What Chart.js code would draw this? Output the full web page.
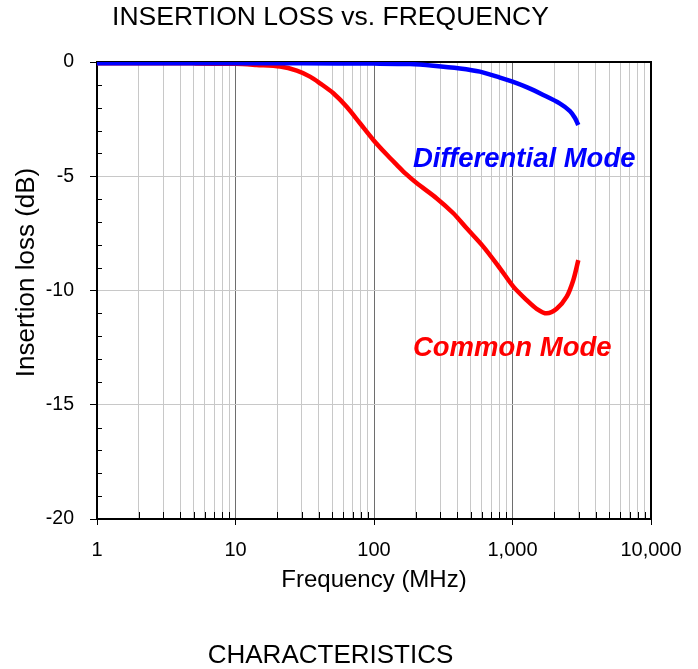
<!DOCTYPE html>
<html><head><meta charset="utf-8">
<script src="https://cdn.jsdelivr.net/npm/chart.js@4/dist/chart.umd.min.js"></script>
<style>html,body{margin:0;padding:0;background:#fff}canvas{display:block}</style>
</head><body>
<canvas id="c" width="698" height="669"></canvas>
<script>
// ---- text ----
const chartTitle = 'INSERTION LOSS vs. FREQUENCY';
const chartCaption = 'CHARACTERISTICS';
const xAxisTitle = 'Frequency (MHz)';
const yAxisTitle = 'Insertion loss (dB)';
const diffLabel = 'Differential Mode';
const commonLabel = 'Common Mode';

// ---- data ----
const diffFreq = [1, 3, 10, 30, 100, 182, 268, 418, 582, 812, 1000, 1265, 1667, 2190, 2600, 2825, 2987];
const diffLoss = [-0.05, -0.05, -0.06, -0.06, -0.07, -0.09, -0.16, -0.28, -0.42, -0.68, -0.86, -1.1, -1.44, -1.81, -2.15, -2.45, -2.76];

const commonFreq = [1, 5, 10, 14.2, 21, 27.7, 34.5, 40.7, 50.9, 63.5, 79.2, 98.9, 123.5, 146, 170, 203, 284, 374, 467, 615, 812, 1014, 1265, 1494, 1766, 2084, 2462, 2750, 2987];
const commonLoss = [-0.05, -0.06, -0.08, -0.13, -0.2, -0.38, -0.64, -0.93, -1.37, -1.96, -2.68, -3.41, -4.05, -4.5, -4.9, -5.3, -5.97, -6.62, -7.28, -8.08, -9.03, -9.83, -10.42, -10.8, -11.0, -10.8, -10.27, -9.54, -8.67];

// ---- ticks ----
const xMajorTicks = [1, 10, 100, 1000, 10000];
const xTickLabels = ['1', '10', '100', '1,000', '10,000'];
const xMinorMultipliers = [2, 3, 4, 5, 6, 7, 8, 9];
const yMin = -20, yMax = 0, yMajorStep = 5, yMinorStep = 1;

// label anchors (data coordinates)
const diffLabelAt = {freq: 191, loss: -4.58};
const commonLabelAt = {freq: 191, loss: -12.85};

const xMinorTicks = [];
xMajorTicks.slice(0, -1).forEach(d => xMinorMultipliers.forEach(m => xMinorTicks.push(m * d)));
const xAllTicks = xMajorTicks.concat(xMinorTicks).sort((a, b) => a - b);

const FONT = '"Liberation Sans", Arial, Helvetica, sans-serif';
Chart.defaults.font.family = FONT;
Chart.defaults.color = '#000';

const toXY = (xs, ys) => xs.map((v, i) => ({x: v, y: ys[i]}));

const extras = {
  id: 'extras',
  beforeDatasetsDraw(chart) {
    const {ctx, chartArea: a, scales: {x, y}} = chart;
    ctx.save();
    ctx.strokeStyle = '#000';
    ctx.lineWidth = 1;
    ctx.beginPath();
    for (let v = yMin; v <= yMax; v += yMinorStep) {
      if (v % yMajorStep === 0) continue;
      const py = Math.round(y.getPixelForValue(v)) + 0.5;
      ctx.moveTo(a.left, py); ctx.lineTo(a.left + 5, py);
    }
    xMinorTicks.forEach(v => {
      const px = Math.round(x.getPixelForValue(v)) + 0.5;
      ctx.moveTo(px, a.bottom); ctx.lineTo(px, a.bottom - 7);
    });
    ctx.stroke();
    ctx.lineWidth = 2;
    ctx.strokeRect(a.left, a.top, a.right - a.left, a.bottom - a.top);
    // y axis title
    ctx.save();
    ctx.translate(27, (a.top + a.bottom) / 2 - 18);
    ctx.rotate(-Math.PI / 2);
    ctx.font = '26px ' + FONT;
    ctx.fillStyle = '#000';
    ctx.textAlign = 'center';
    ctx.textBaseline = 'middle';
    ctx.fillText(yAxisTitle, 0, 0);
    ctx.restore();
    ctx.restore();
  },
  afterDatasetsDraw(chart) {
    const {ctx, scales: {x, y}} = chart;
    ctx.save();
    ctx.font = 'italic bold 27.5px ' + FONT;
    ctx.textAlign = 'left';
    ctx.textBaseline = 'alphabetic';
    ctx.fillStyle = '#0000ff';
    ctx.fillText(diffLabel, x.getPixelForValue(diffLabelAt.freq), y.getPixelForValue(diffLabelAt.loss));
    ctx.fillStyle = '#ff0000';
    ctx.fillText(commonLabel, x.getPixelForValue(commonLabelAt.freq), y.getPixelForValue(commonLabelAt.loss));
    ctx.restore();
  }
};

new Chart(document.getElementById('c'), {
  type: 'line',
  data: {
    datasets: [
      {label: diffLabel, data: toXY(diffFreq, diffLoss), borderColor: '#0000ff', borderWidth: 4.5,
       pointRadius: 0, tension: 0.3, fill: false},
      {label: commonLabel, data: toXY(commonFreq, commonLoss), borderColor: '#ff0000', borderWidth: 4.5,
       pointRadius: 0, tension: 0.3, fill: false}
    ]
  },
  plugins: [extras],
  options: {
    responsive: false,
    animation: false,
    devicePixelRatio: 1,
    layout: {padding: {left: 0, right: 37, top: 0, bottom: 0}},
    plugins: {
      legend: {display: false},
      tooltip: {enabled: false},
      title: {display: true, text: chartTitle, color: '#000',
              font: {size: 26.5, weight: 'normal', lineHeight: 1}, padding: {top: 4, bottom: 31.5}},
      subtitle: {display: true, position: 'bottom', text: chartCaption, color: '#000',
                 font: {size: 26, weight: 'normal', lineHeight: 1}, padding: {top: 40, bottom: 0}}
    },
    scales: {
      x: {
        type: 'logarithmic', min: 1, max: 10000,
        afterBuildTicks: s => { s.ticks = xAllTicks.map(v => ({value: v})); },
        afterFit: s => { s.height = 84; },
        border: {display: false},
        grid: {
          drawTicks: true, tickLength: 6,
          color: c => xMajorTicks.includes(c.tick.value) ? '#6e6e6e' : '#c8c8c8',
          tickColor: c => xMajorTicks.includes(c.tick.value) ? '#000' : 'rgba(0,0,0,0)',
          lineWidth: 1
        },
        ticks: {
          autoSkip: false, maxRotation: 0, minRotation: 0, padding: 15,
          font: {size: 20, lineHeight: 1},
          callback: v => { const i = xMajorTicks.indexOf(v); return i >= 0 ? xTickLabels[i] : ''; }
        },
        title: {display: true, text: xAxisTitle, font: {size: 24, lineHeight: 1}, padding: {top: 0, bottom: 11}}
      },
      y: {
        type: 'linear', min: yMin, max: yMax,
        afterFit: s => { s.width = 97; },
        border: {display: false},
        grid: {
          drawTicks: true, tickLength: 7,
          color: c => (c.tick.value % yMajorStep === 0 && c.tick.value !== yMin && c.tick.value !== yMax) ? '#c8c8c8' : 'rgba(0,0,0,0)',
          tickColor: c => (c.tick.value % yMajorStep === 0) ? '#000' : 'rgba(0,0,0,0)',
          lineWidth: 1
        },
        ticks: {
          stepSize: yMinorStep, autoSkip: false, padding: 16,
          font: {size: 19.5, lineHeight: 1},
          callback: v => (v % yMajorStep === 0) ? String(v) : ''
        },
        title: {display: false}
      },
      yRight: {
        type: 'linear', position: 'right', display: true,
        afterFit: s => { s.width = 10; },
        border: {display: false},
        grid: {display: false, drawTicks: false},
        ticks: {display: false}
      }
    }
  }
});
</script>
</body></html>
